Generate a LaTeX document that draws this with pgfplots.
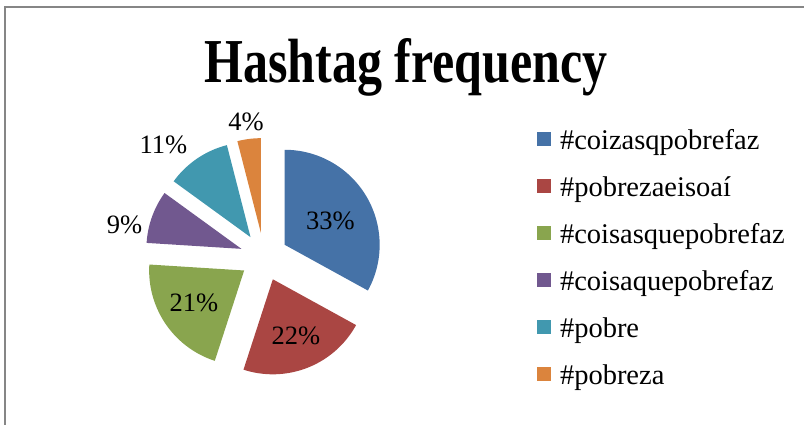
\documentclass[border=0pt]{standalone}
\usepackage{pgfplots}
\pgfplotsset{compat=1.18}
\usepackage{fontspec}
\setmainfont{Liberation Serif}
\definecolor{cBlue}{HTML}{4572A7}
\definecolor{cRed}{HTML}{AA4643}
\definecolor{cGreen}{HTML}{89A54E}
\definecolor{cPurple}{HTML}{71588F}
\definecolor{cTeal}{HTML}{4198AF}
\definecolor{cOrange}{HTML}{DB843D}
\definecolor{frame}{HTML}{868686}
% #1 = cumulative share before the slice (%), #2 = share (%), #3 = colour
\newcommand{\pieslice}[3]{%
\addplot[fill=#3, draw=none, domain=0:1.05, samples=64, variable=\t]
 ({264 + 24*cos(90-3.6*(#1+#2/2)) + ((\t>1.005) ? 0 : 95)*cos(90-3.6*#1-3.6*#2*min(\t,1))},
  {168 + 24*sin(90-3.6*(#1+#2/2)) + ((\t>1.005) ? 0 : 95)*sin(90-3.6*#1-3.6*#2*min(\t,1))});
}
\begin{document}
\begin{tikzpicture}
\begin{axis}[
  at={(0pt,0pt)}, anchor=south west,
  scale only axis, width=804pt, height=425pt,
  xmin=0, xmax=804, ymin=0, ymax=425,
  hide axis, clip=false,
  legend cell align=left,
  legend image code/.code={\fill[#1] (0pt,-3.5pt) rectangle (14pt,10.5pt);},
  legend style={at={(537/804,295.7/425)}, anchor=north west, draw=none, fill=none,
    inner sep=0pt, outer sep=0pt, row sep=20pt, column sep=9pt,
    font=\fontsize{28.5}{30}\selectfont,
    nodes={inner sep=0pt, text height=20pt, text depth=7pt}},
]
\pieslice{0}{33}{cBlue}
\addlegendentry{\#coizasqpobrefaz}
\pieslice{33}{22}{cRed}
\addlegendentry{\#pobrezaeisoaí}
\pieslice{55}{21}{cGreen}
\addlegendentry{\#coisasquepobrefaz}
\pieslice{76}{9}{cPurple}
\addlegendentry{\#coisaquepobrefaz}
\pieslice{85}{11}{cTeal}
\addlegendentry{\#pobre}
\pieslice{96}{4}{cOrange}
\addlegendentry{\#pobreza}
\begin{scope}[every node/.style={font=\fontsize{26.5}{28}\selectfont, inner sep=0pt}]
\node at (axis cs:330.5,204) {33\%};
\node at (axis cs:296,89) {22\%};
\node at (axis cs:194,122) {21\%};
\node at (axis cs:124.5,200) {9\%};
\node at (axis cs:163.5,280) {11\%};
\node at (axis cs:246,303) {4\%};
\end{scope}
\node[anchor=base west, inner sep=0pt] at (axis cs:204,342)
  {\scalebox{1}[1.25]{\fontsize{50}{56}\selectfont\bfseries Hashtag frequency}};
\end{axis}
\draw[line width=2pt, frame] (5pt,0pt) -- (5pt,418pt) -- (804pt,418pt);
\pgfresetboundingbox
\path[use as bounding box] (0pt,0pt) rectangle (804pt,425pt);
\end{tikzpicture}
\end{document}
